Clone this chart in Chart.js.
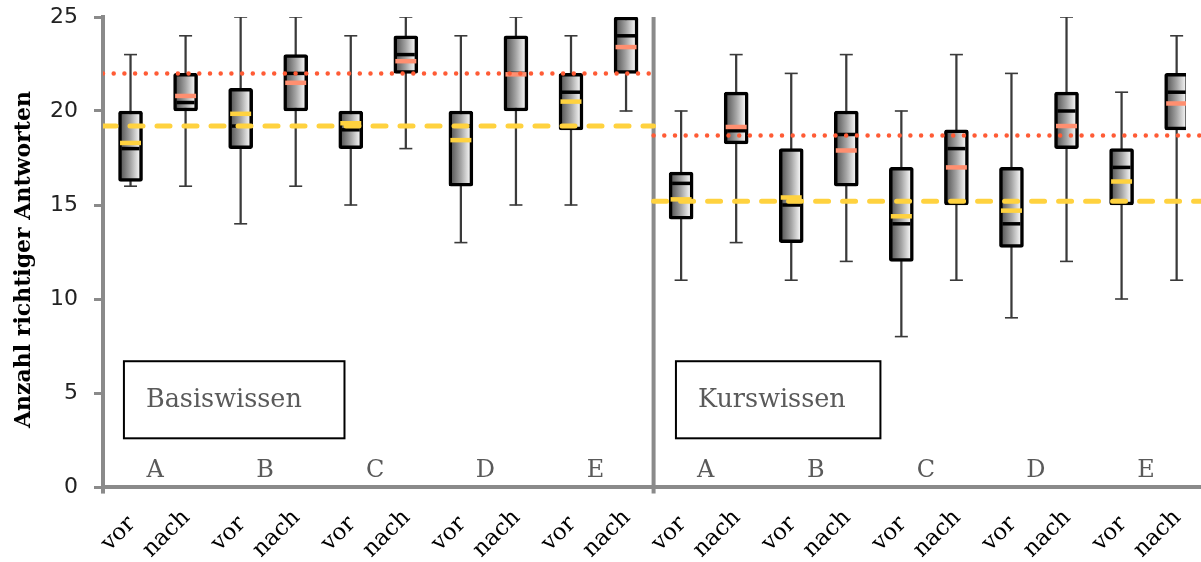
<!DOCTYPE html>
<html><head><meta charset="utf-8">
<script src="https://cdn.jsdelivr.net/npm/chart.js@4/dist/chart.umd.min.js"></script>
<style>html,body{margin:0;padding:0;background:#fff;} #wrap{width:1201px;height:562px;position:relative;}</style>
</head><body><div id="wrap"><canvas id="c"></canvas></div>
<script>
// ---- data ----
const CATEGORIES = ['vor','nach','vor','nach','vor','nach','vor','nach','vor','nach',
                    'vor','nach','vor','nach','vor','nach','vor','nach','vor','nach'];
const GROUPS = ['A','B','C','D','E'];
const PANELS = ['Basiswissen','Kurswissen'];
const Y_TITLE = 'Anzahl richtiger Antworten';
const WHISKER_LOW  = [16,16,14,16,15,18,13,15,15,20, 11,13,11,12,8,11,9,12,10,11];
const Q1           = [16.25,20,18,20,18,22,16,20,19,22, 14.25,18.25,13,16,12,15,12.75,18,15,19];
const MEDIAN       = [18,20.45,19.2,22,19,23,19.2,22,21,24, 16.15,18.95,15,18.75,14,18,14,20,17,21];
const Q3           = [20,22,21.2,23,20,24,20,24,22,25, 16.75,21,18,20,17,19,17,21,18,22];
const WHISKER_HIGH = [23,24,25,25,24,25,24,25,24,25, 20,23,22,23,20,23,22,25,21,24];
const MEAN         = [18.3,20.8,19.85,21.5,19.35,22.65,18.45,21.95,20.5,23.4,
                      15.3,19.15,15.4,17.9,14.4,17.0,14.7,19.2,16.25,20.4];
const AVG_VOR  = [19.2, 15.2];   // Basiswissen, Kurswissen
const AVG_NACH = [22.0, 18.7];
const Y_TICKS = [0,5,10,15,20,25];

// ---- styles ----
const GRAY_AXIS = '#8a8a8a';
const YELLOW = '#FFD23F';
const SALMON = '#FF8F70';
const RED_DOT = '#FF5B35';
const X_MAX = 19.17;

const idx = CATEGORIES.map((_, i) => i);

function boxFill(ctx) {
  const chart = ctx.chart;
  const xs = chart.scales && chart.scales.x;
  if (!xs || !ctx.raw) return '#aaa';
  const cx = xs.getPixelForValue(ctx.raw.x);
  if (!isFinite(cx)) return '#aaa';
  const g = chart.ctx.createLinearGradient(cx - 12, 0, cx + 12, 0);
  g.addColorStop(0, '#464646');
  g.addColorStop(0.5, '#a4a4a4');
  g.addColorStop(0.85, '#efefef');
  g.addColorStop(1, '#d2d2d2');
  return g;
}

const datasets = [];
// reference lines
[0, 1].forEach(p => {
  const x0 = p * 10 - 0.5, x1 = p * 10 + 9.5;
  datasets.push({type:'line', order:0, clip: p === 1 ? false : undefined,
    data:[{x:x0,y:AVG_VOR[p]},{x:x1,y:AVG_VOR[p]}],
    borderColor:YELLOW, borderWidth:5, borderDash:[13,14], borderCapStyle:'round',
    pointRadius:0, fill:false});
  datasets.push({type:'line', order:0, clip: p === 1 ? false : undefined,
    data:[{x:x0,y:AVG_NACH[p]},{x:x1,y:AVG_NACH[p]}],
    borderColor:RED_DOT, borderWidth:4.5, borderDash:[0,10.7], borderCapStyle:'round',
    pointRadius:0, fill:false});
});
// divider between panels, axis extension
datasets.push({type:'line', order:1, data:[{x:9.5,y:-0.35},{x:9.5,y:25}], clip:false,
  borderColor:GRAY_AXIS, borderWidth:4, pointRadius:0, fill:false});
datasets.push({type:'line', order:1, data:[{x:-0.5,y:-0.35},{x:-0.5,y:0}], clip:false,
  borderColor:GRAY_AXIS, borderWidth:4, pointRadius:0, fill:false});
datasets.push({type:'line', order:1, data:[{x:9.5,y:0},{x:19.5,y:0}], clip:false,
  borderColor:GRAY_AXIS, borderWidth:4, pointRadius:0, fill:false});
// means
datasets.push({type:'scatter', order:2, data: idx.map(i => ({x:i, y:MEAN[i]})),
  pointStyle:'line', pointRadius:10.5, pointHoverRadius:10.5, borderWidth:4.5,
  pointBorderColor: idx.map(i => CATEGORIES[i] === 'vor' ? YELLOW : SALMON)});
// medians
datasets.push({type:'scatter', order:3, data: idx.map(i => ({x:i, y:MEDIAN[i]})),
  pointStyle:'line', pointRadius:9, pointHoverRadius:9, borderWidth:3.5, pointBorderColor:'#000'});
// boxes
datasets.push({type:'bar', order:4, data: idx.map(i => ({x:i, y:[Q1[i], Q3[i]]})),
  backgroundColor: boxFill, borderColor:'#000', borderWidth:3.5, borderSkipped:false,
  borderRadius:2.5, barThickness:24, grouped:false});
// whisker caps
datasets.push({type:'scatter', order:5, data: idx.map(i => ({x:i, y:WHISKER_LOW[i]}))
  .concat(idx.map(i => ({x:i, y:WHISKER_HIGH[i]}))),
  pointStyle:'line', pointRadius:6.5, pointHoverRadius:6.5, borderWidth:1.6, pointBorderColor:'#3a3a3a'});
// whisker stems
datasets.push({type:'bar', order:6, data: idx.map(i => ({x:i, y:[WHISKER_LOW[i], WHISKER_HIGH[i]]})),
  backgroundColor:'#3a3a3a', borderWidth:0, barThickness:1.6, grouped:false});

const annot = {
  id: 'annot',
  afterDraw(chart) {
    const {ctx, scales:{x, y}} = chart;
    ctx.save();
    // y-axis title
    ctx.save();
    ctx.font = 'bold 22px "DejaVu Serif"';
    ctx.fillStyle = '#000';
    ctx.textAlign = 'center';
    ctx.textBaseline = 'middle';
    ctx.translate(24, y.getPixelForValue(12.1));
    ctx.rotate(-Math.PI / 2);
    ctx.fillText(Y_TITLE, 0, 0);
    ctx.restore();
    // category labels (rotated, centred like the original)
    ctx.font = '23px "DejaVu Serif"';
    ctx.fillStyle = '#000';
    ctx.textAlign = 'center';
    ctx.textBaseline = 'middle';
    x.ticks.forEach(t => {
      const label = CATEGORIES[t.value];
      const w = ctx.measureText(label).width;
      const px = x.getPixelForValue(t.value) + 2.5 - 0.383 * w;
      ctx.save();
      ctx.translate(px, 534);
      ctx.rotate(-Math.PI / 4);
      ctx.fillText(label, 0, 0);
      ctx.restore();
    });
    // group letters
    ctx.font = '24px "DejaVu Serif"';
    ctx.fillStyle = '#5a5a5a';
    ctx.textAlign = 'center';
    ctx.textBaseline = 'alphabetic';
    [0, 1].forEach(p => GROUPS.forEach((g, k) => {
      const xv = p * 10 + 2 * k + 0.5;
      ctx.fillText(g, x.getPixelForValue(xv) - 3, y.getPixelForValue(0.52));
    }));
    // panel name boxes
    const boxX = [[-0.12, 3.886], [9.906, 13.62]];
    PANELS.forEach((name, p) => {
      const x0 = x.getPixelForValue(boxX[p][0]), x1 = x.getPixelForValue(boxX[p][1]);
      const y0 = y.getPixelForValue(6.69), y1 = y.getPixelForValue(2.59);
      ctx.fillStyle = '#fff';
      ctx.fillRect(x0, y0, x1 - x0, y1 - y0);
      ctx.strokeStyle = '#000'; ctx.lineWidth = 2;
      ctx.strokeRect(x0, y0, x1 - x0, y1 - y0);
      ctx.fillStyle = '#5a5a5a';
      ctx.textAlign = 'left'; ctx.textBaseline = 'middle';
      ctx.font = '25.5px "DejaVu Serif"';
      ctx.fillText(name, x0 + 22, (y0 + y1) / 2 + 1);
    });
    ctx.restore();
  }
};

new Chart(document.getElementById('c'), {
  type: 'bar',
  data: { datasets },
  options: {
    responsive: true, maintainAspectRatio: false, animation: false,
    layout: { padding: { top: 17, right: 0, left: 0, bottom: 0 } },
    plugins: { legend: { display: false }, tooltip: { enabled: false } },
    scales: {
      x: {
        type: 'linear', min: -0.5, max: X_MAX, offset: false,
        afterBuildTicks: s => { s.ticks = idx.map(i => ({ value: i })); },
        afterFit: s => { s.height = 75; s.paddingLeft = 0; s.paddingRight = 0; },
        ticks: { autoSkip: false, minRotation: 45, maxRotation: 45, padding: 18,
          color: 'rgba(0,0,0,0)', font: { family: 'DejaVu Serif', size: 22 },
          callback: v => CATEGORIES[v] },
        grid: { display: false, drawTicks: false },
        border: { display: true, color: GRAY_AXIS, width: 4 }
      },
      y: {
        min: 0, max: 25,
        afterBuildTicks: s => { s.ticks = Y_TICKS.map(v => ({ value: v })); },
        afterFit: s => { s.width = 103; s.paddingTop = 0; s.paddingBottom = 0; },
        ticks: { padding: 16, color: '#222', font: { family: 'DejaVu Sans', size: 22 } },
        grid: { drawOnChartArea: false, drawTicks: true, tickLength: 9, tickWidth: 3, tickColor: GRAY_AXIS },
        border: { display: true, color: GRAY_AXIS, width: 4 },
        title: { display: false }
      }
    }
  },
  plugins: [annot]
});
</script>
</body></html>
